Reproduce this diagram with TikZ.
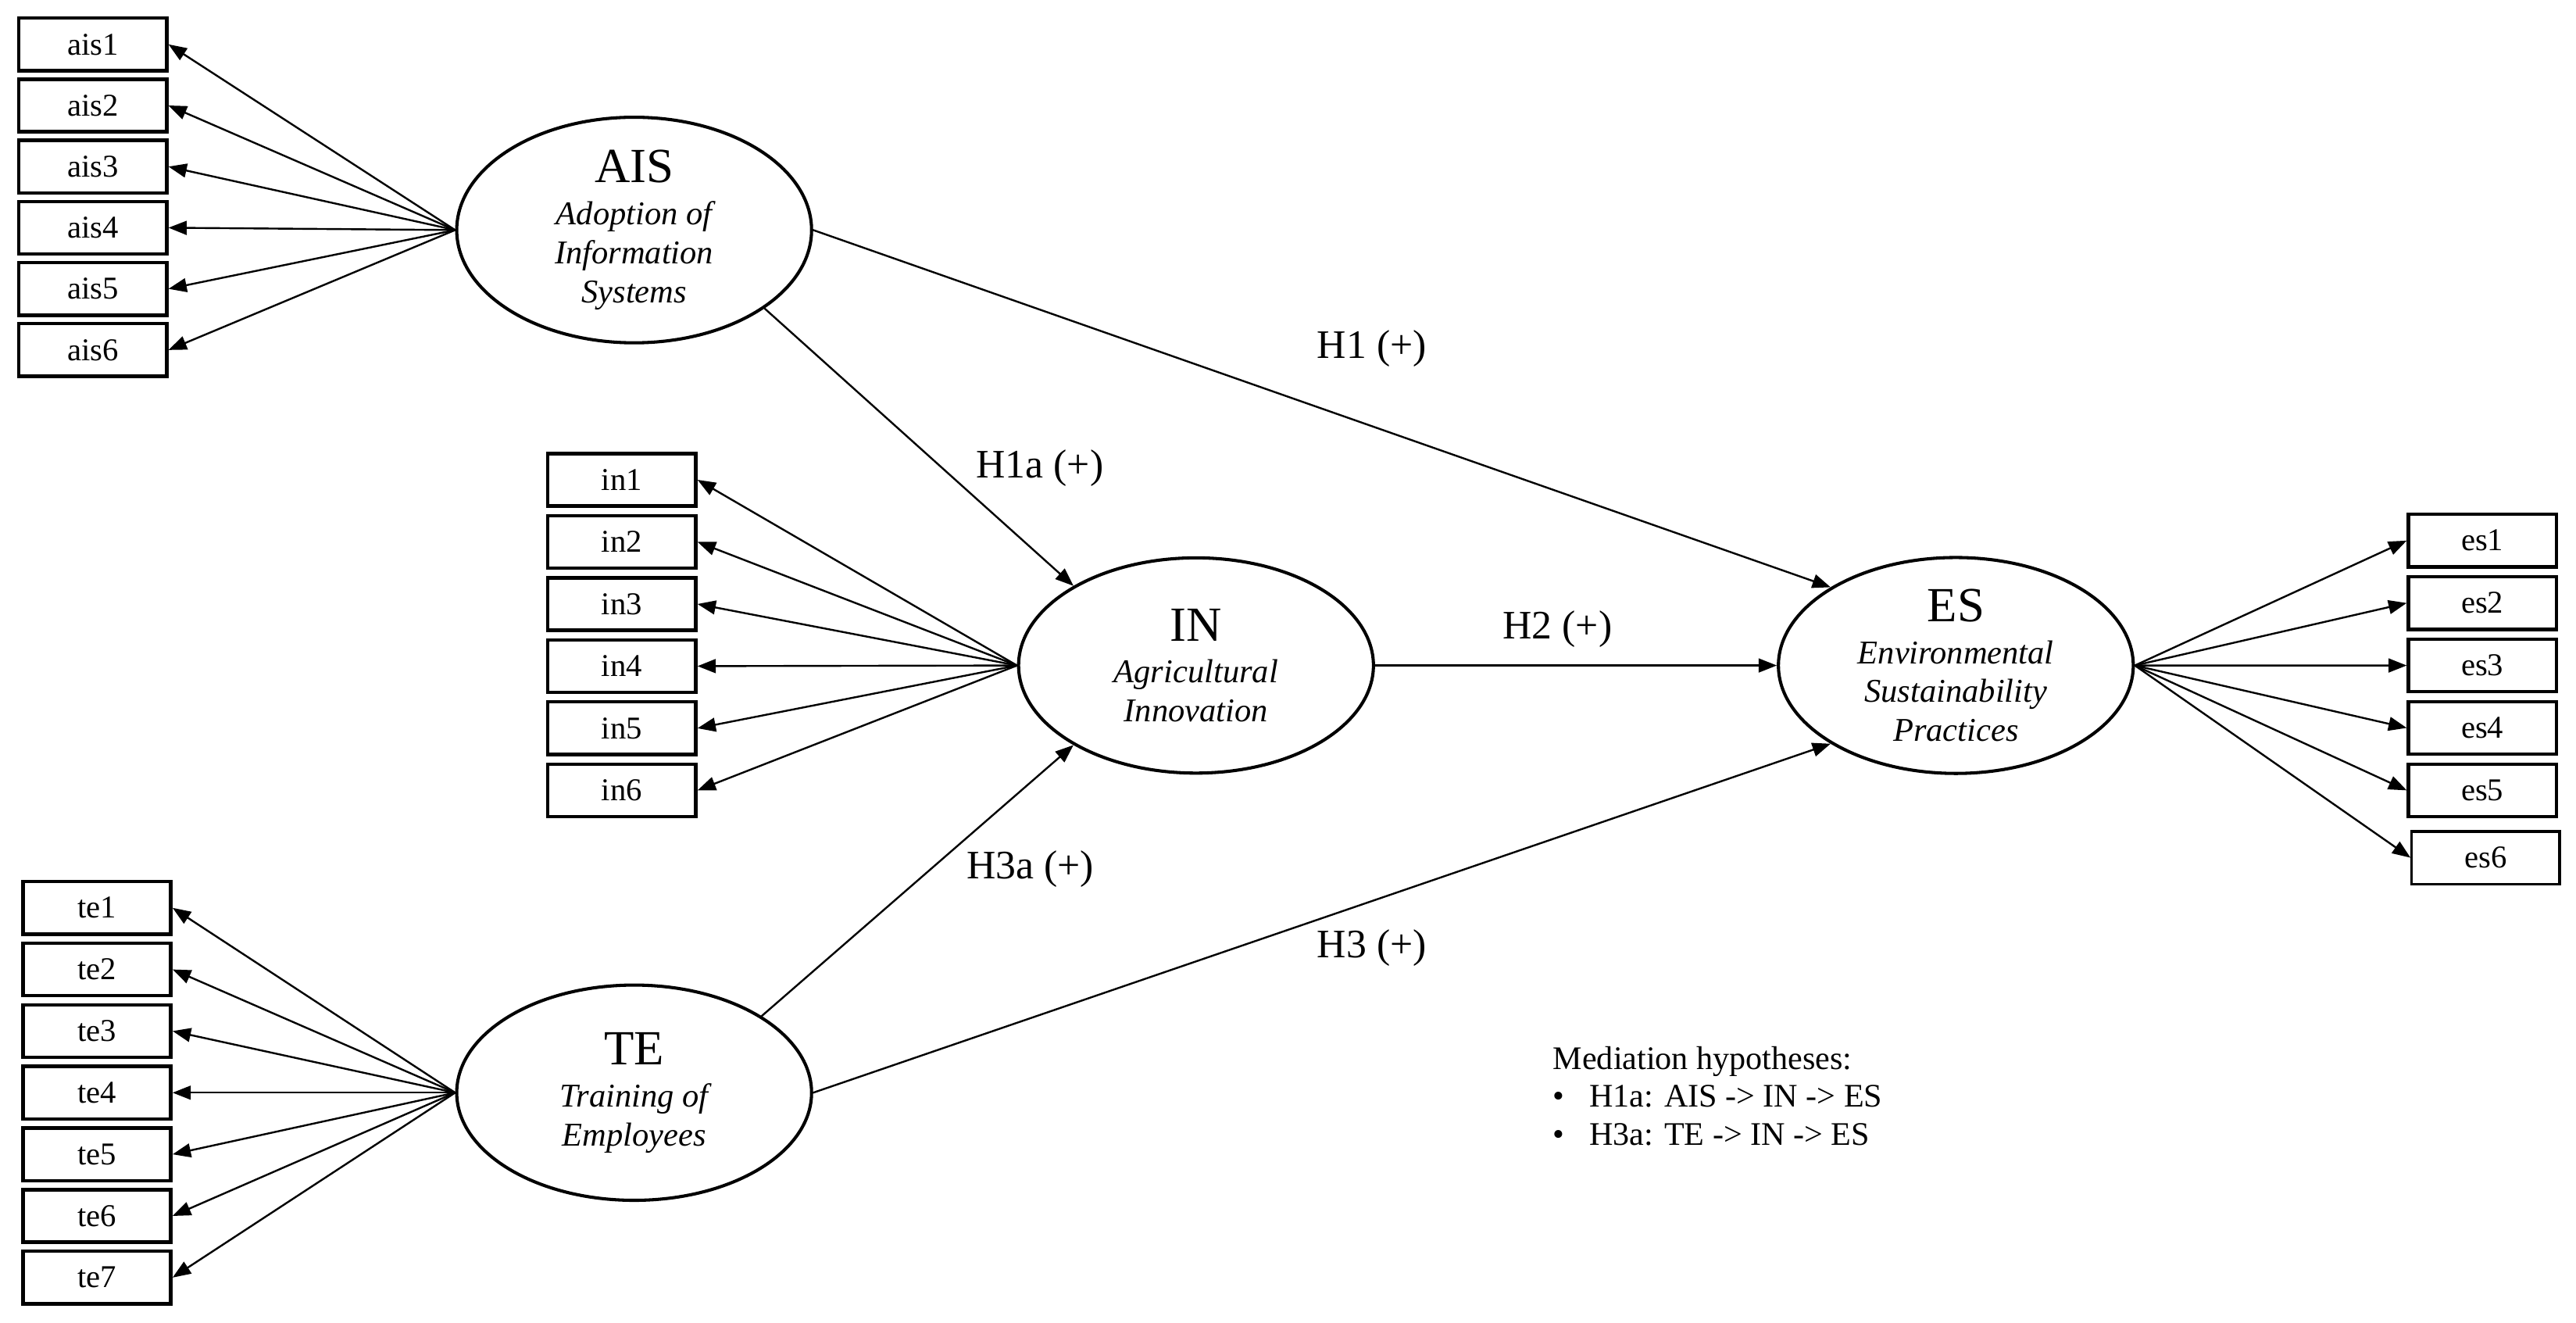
\documentclass[tikz,border=0pt]{standalone}
\usepackage{fontspec}
\setmainfont{Liberation Serif}
\usetikzlibrary{arrows.meta,shapes.geometric}

\tikzset{
  indicator/.style={draw, line width=1.2pt, minimum width=1.8cm, minimum height=0.64cm,
    inner sep=0pt, font=\fontsize{11}{13}\selectfont},
  construct/.style={draw, ellipse, line width=1.1pt, minimum width=4.32cm, minimum height=2.62cm,
    inner sep=0pt, align=center, font=\fontsize{11.5}{13.5}\selectfont\itshape},
  loading/.style={-{Triangle[length=6.3pt,width=4.8pt]}, line width=0.65pt},
  pathlabel/.style={font=\fontsize{14}{16}\selectfont}
}
\newcommand{\ctitle}[1]{{\fontsize{17}{20}\selectfont\upshape #1}\\[1pt]}

\begin{document}
\begin{tikzpicture}

    \useasboundingbox (0,0) rectangle (31.36,16.1);

    % latent constructs
    \node[construct] (AIS) at (7.72,13.30) {\ctitle{AIS}Adoption of\\Information\\Systems};
    \node[construct] (IN) at (14.56,8.0) {\ctitle{IN}Agricultural\\Innovation};
    \node[construct] (ES) at (23.81,8.0) {\ctitle{ES}Environmental\\Sustainability\\Practices};
    \node[construct] (TE) at (7.72,2.80) {\ctitle{TE}Training of\\Employees};

    % indicators
    \foreach \i in {1,...,6}
        \node[indicator] (ais\i) at (1.13,{15.56-0.744*(\i-1)}) {ais\i};
    \foreach \i in {1,...,6}
        \node[indicator] (in\i) at (7.57,{10.26-0.756*(\i-1)}) {in\i};
    \foreach \i in {1,...,7}
        \node[indicator] (te\i) at (1.18,{5.05-0.75*(\i-1)}) {te\i};
    \foreach \i in {1,...,5}
        \node[indicator] (es\i) at (30.22,{9.52-0.76*(\i-1)}) {es\i};
    \node[indicator, line width=0.85pt] (es6) at (30.26,5.66) {es6};

    % loadings
    \foreach \i in {1,...,6} \draw[loading] (AIS.west) -- (ais\i.east);
    \foreach \i in {1,...,6} \draw[loading] (IN.west) -- (in\i.east);
    \foreach \i in {1,...,7} \draw[loading] (TE.west) -- (te\i.east);
    \foreach \i in {1,...,6} \draw[loading] (ES.east) -- (es\i.west);

    % structural paths
    \draw[loading] (AIS.east) -- (ES.148);
    \draw[loading] (AIS.-31) -- (IN.147);
    \draw[loading] (IN.east) -- (ES.west);
    \draw[loading] (TE.31) -- (IN.213);
    \draw[loading] (TE.east) -- (ES.212);

    \node[pathlabel] (h1) at (16.70,11.86) {H1 (+)};
    \node[pathlabel] (h1a) at (12.66,10.40) {H1a (+)};
    \node[pathlabel] (h2) at (18.96,8.44) {H2 (+)};
    \node[pathlabel] (h3a) at (12.54,5.52) {H3a (+)};
    \node[pathlabel] (h3) at (16.70,4.56) {H3 (+)};

    \node[anchor=north west, align=left, inner sep=0pt, font=\fontsize{11.4}{13.1}\selectfont]
        (legend) at (18.9,3.37) {Mediation hypotheses:\\
        \makebox[1.1em][l]{\textbullet}H1a: AIS -> IN -> ES\\
        \makebox[1.1em][l]{\textbullet}H3a: TE -> IN -> ES};

\end{tikzpicture}
\end{document}
